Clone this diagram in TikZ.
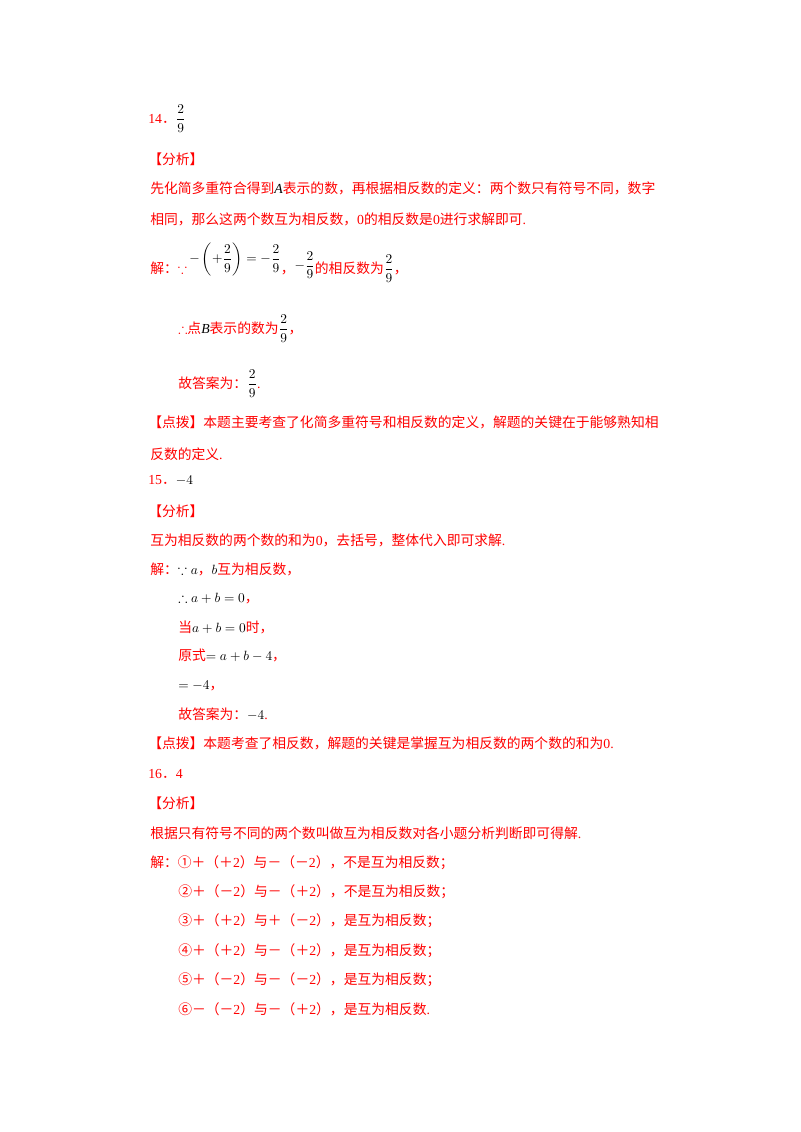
\documentclass[tikz,border=0pt]{standalone}
\usepackage{amsmath,amssymb}
\usepackage{fontspec}
\setmainfont{Liberation Serif}
\newfontfamily\cjk{Noto Sans CJK SC}
\begin{document}
\begin{tikzpicture}[x=0.02625cm,y=-0.02625cm,
  t/.style={anchor=base west,inner sep=0pt,text=red,font=\fontsize{10.3}{12}\selectfont}]
\useasboundingbox (0,0) rectangle (800,1132);
\newcommand{\C}[1]{{\cjk #1}}
\newcommand{\K}[1]{\textcolor{black}{#1}}
\newcommand{\F}{\dfrac{2}{9}}
\node[t] (a1) at (148,123) {14\C{．}\K{$\F$}};
\node[t] (a2) at (148,164) {\C{【分析】}};
\node[t] (a3) at (150,193) {\C{先化简多重符合得到}\K{\textit{A}}\C{表示的数，再根据相反数的定义：两个数只有符号不同，数字}};
\node[t] (a4) at (150,224) {\C{相同，那么这两个数互为相反数，}0\C{的相反数是}0\C{进行求解即可}.};
\node[t] (a5) at (150,273) {\C{解：}$\because$\,\raisebox{1.6ex}{\K{$-\left(+\F\right)=-\F$}}\C{，}\raisebox{0.6ex}{\K{$-\F$}}\C{的相反数为}\K{$\F$}\C{，}};
\node[t] (a6) at (178,333) {$\therefore$\C{点}\K{\textit{B}}\C{表示的数为}\K{$\F$}\C{，}};
\node[t] (a7) at (178,388) {\C{故答案为：}\K{$\F$}.};
\node[t] (a8) at (148,427) {\C{【点拨】本题主要考查了化简多重符号和相反数的定义，解题的关键在于能够熟知相}};
\node[t] (a9) at (150,459) {\C{反数的定义}.};
\node[t] (b1) at (148,484) {15\C{．}\K{$-4$}};
\node[t] (b2) at (148,516) {\C{【分析】}};
\node[t] (b3) at (150,545) {\C{互为相反数的两个数的和为}0\C{，去括号，整体代入即可求解}.};
\node[t] (b4) at (150,574) {\C{解：}\K{$\because a$}\C{，}\K{$b$}\C{互为相反数，}};
\node[t] (b5) at (178,602) {\K{$\therefore a+b=0$}\C{，}};
\node[t] (b6) at (178,632) {\C{当}\K{$a+b=0$}\C{时，}};
\node[t] (b7) at (178,660) {\C{原式}\K{$=a+b-4$}\C{，}};
\node[t] (b8) at (178,689) {\K{$=-4$}\C{，}};
\node[t] (b9) at (178,719) {\C{故答案为：}\K{$-4$}.};
\node[t] (b10) at (148,748) {\C{【点拨】本题考查了相反数，解题的关键是掌握互为相反数的两个数的和为}0.};
\node[t] (c1) at (148,778) {16\C{．}4};
\node[t] (c2) at (148,808) {\C{【分析】}};
\node[t] (c3) at (150,838) {\C{根据只有符号不同的两个数叫做互为相反数对各小题分析判断即可得解}.};
\node[t] (c4) at (150,867) {\C{解：①＋（＋}2\C{）与－（－}2\C{），不是互为相反数；}};
\node[t] (c5) at (178,896) {\C{②＋（－}2\C{）与－（＋}2\C{），不是互为相反数；}};
\node[t] (c6) at (178,925) {\C{③＋（＋}2\C{）与＋（－}2\C{），是互为相反数；}};
\node[t] (c7) at (178,955) {\C{④＋（＋}2\C{）与－（＋}2\C{），是互为相反数；}};
\node[t] (c8) at (178,984) {\C{⑤＋（－}2\C{）与－（－}2\C{），是互为相反数；}};
\node[t] (c9) at (178,1014) {\C{⑥－（－}2\C{）与－（＋}2\C{），是互为相反数}.};
\end{tikzpicture}
\end{document}
